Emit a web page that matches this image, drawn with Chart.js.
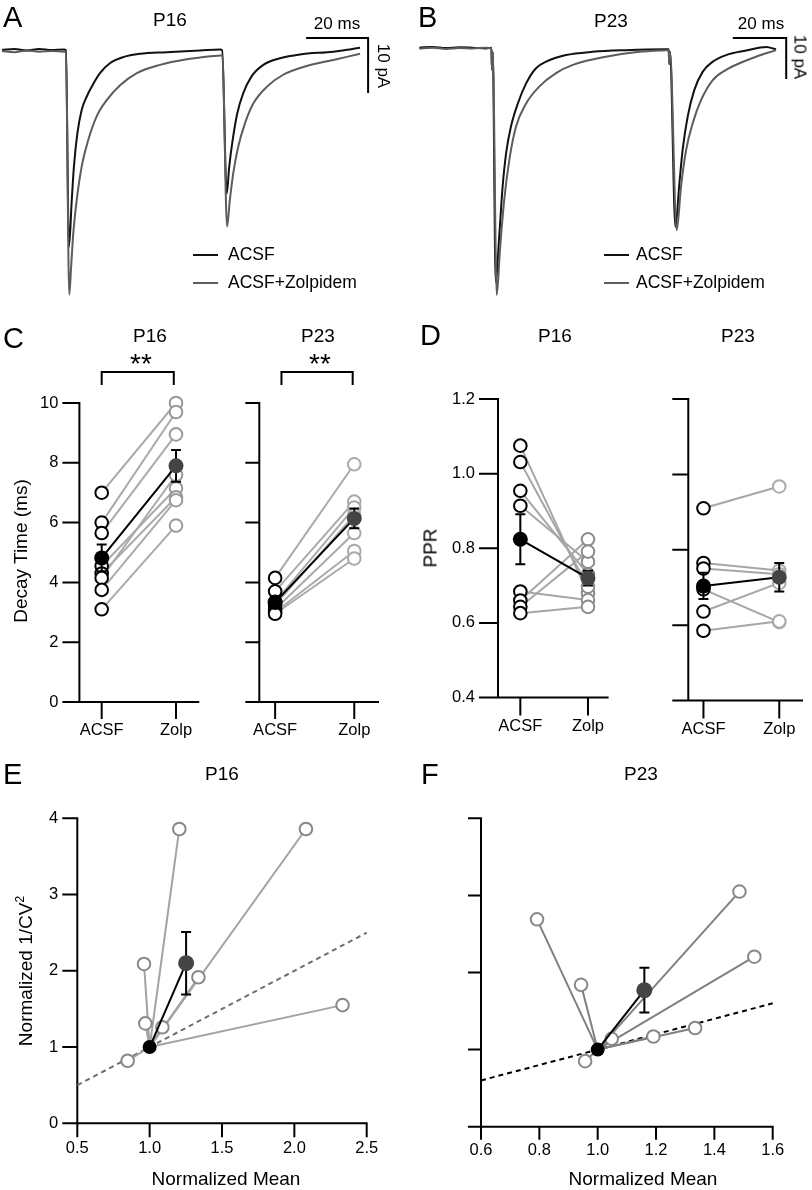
<!DOCTYPE html>
<html>
<head>
<meta charset="utf-8">
<script src="https://cdn.jsdelivr.net/npm/chart.js@4.4.1/dist/chart.umd.min.js"></script>
<style>
  body { margin: 0; background: #fff; }
  #fig { position: relative; width: 812px; height: 1190px; overflow: hidden;
         font-family: "Liberation Sans", Arial, Helvetica, sans-serif; color: #000; }
  #fig canvas { position: absolute; left: 0; top: 0; }
  .t { position: absolute; transform: translate(-50%, -50%); white-space: nowrap; font-size: 19px; line-height: 1; }
  .l { position: absolute; transform: translateY(-50%); white-space: nowrap; line-height: 1; font-size: 17.5px; }
  .letter { font-size: 29px; }
  .rot { transform: translate(-50%, -50%) rotate(-90deg); }
  .rotcw { transform: translate(-50%, -50%) rotate(90deg); font-size: 17px; }
  .stars { font-size: 28px; }
  .key { position: absolute; height: 0; width: 25px; border-top: 2px solid #111; transform: translateY(-1px); }
</style>
</head>
<body>
<div id="fig">
  <canvas id="cA" width="812" height="1190"></canvas>
  <canvas id="cB" width="812" height="1190"></canvas>
  <canvas id="cC16" width="812" height="1190"></canvas>
  <canvas id="cC23" width="812" height="1190"></canvas>
  <canvas id="cD16" width="812" height="1190"></canvas>
  <canvas id="cD23" width="812" height="1190"></canvas>
  <canvas id="cE" width="812" height="1190"></canvas>
  <canvas id="cF" width="812" height="1190"></canvas>

  <!-- A -->
  <div class="l letter" style="left:3px;top:17px">A</div>
  <div class="t" style="left:170px;top:19px">P16</div>
  <div class="t" style="left:337px;top:23px;font-size:17px">20 ms</div>
  <div class="t rotcw" style="left:383px;top:66px">10 pA</div>
  <div class="key" style="left:193px;top:255px"></div>
  <div class="key" style="left:193px;top:283px;border-color:#5c5c5c"></div>
  <div class="l" style="left:228px;top:255px">ACSF</div>
  <div class="l" style="left:228px;top:283px">ACSF+Zolpidem</div>

  <!-- B -->
  <div class="l letter" style="left:418px;top:17px">B</div>
  <div class="t" style="left:611px;top:20px">P23</div>
  <div class="t" style="left:761px;top:23px;font-size:17px">20 ms</div>
  <div class="t rotcw" style="left:800px;top:57px">10 pA</div>
  <div class="key" style="left:604px;top:255px"></div>
  <div class="key" style="left:604px;top:283px;border-color:#5c5c5c"></div>
  <div class="l" style="left:636px;top:255px">ACSF</div>
  <div class="l" style="left:636px;top:283px">ACSF+Zolpidem</div>

  <!-- C -->
  <div class="l letter" style="left:3px;top:338px">C</div>
  <div class="t" style="left:150px;top:335px">P16</div>
  <div class="t stars" style="left:141px;top:364px">**</div>
  <div class="t" style="left:318px;top:335px">P23</div>
  <div class="t stars" style="left:320px;top:364px">**</div>
  <div class="t rot" style="left:20px;top:551px">Decay Time (ms)</div>

  <!-- D -->
  <div class="l letter" style="left:420px;top:335px">D</div>
  <div class="t" style="left:555px;top:335px">P16</div>
  <div class="t" style="left:738px;top:335px">P23</div>
  <div class="t rot" style="left:430px;top:548px">PPR</div>

  <!-- E -->
  <div class="l letter" style="left:3px;top:774px">E</div>
  <div class="t" style="left:222px;top:773px">P16</div>
  <div class="t rot" style="left:25px;top:971px">Normalized 1/CV<span style="font-size:12px;position:relative;top:-8px">2</span></div>
  <div class="t" style="left:226px;top:1178px">Normalized Mean</div>

  <!-- F -->
  <div class="l letter" style="left:421px;top:774px">F</div>
  <div class="t" style="left:641px;top:773px">P23</div>
  <div class="t" style="left:643px;top:1178px">Normalized Mean</div>
</div>

<script>
// ---- A: P16 example traces (time in ms, current in pA)
const aAcsfT = [0, 4, 8, 12, 16, 20, 20.6, 21.6, 22.5, 23.2, 24.3, 25.7, 27.3, 29.5, 31.6, 34.8, 39.1, 44.5, 53.1, 63.9, 70.3, 71.0, 72.5, 73.3, 74.4, 75.9, 77.8, 80.5, 84.3, 89.7, 96.1, 106.9, 115.5];
const aAcsfI = [0, 0.2, -0.1, 0.2, 0, 0.1, 0, -35.8, -27.3, -21.2, -15.2, -10.9, -8.5, -6.1, -4.2, -2.4, -1.3, -0.7, -0.4, -0.1, 0.1, 0, -26.1, -21.2, -16.4, -11.5, -7.9, -4.8, -2.7, -1.5, -0.8, -0.3, 0.4];
const aZolT = [0, 4, 8, 12, 16, 20, 20.6, 21.7, 22.3, 23.0, 24.1, 25.7, 27.8, 30.5, 33.8, 38.1, 43.5, 51.0, 59.6, 68.2, 70.6, 71.1, 72.6, 73.5, 74.6, 76.2, 78.4, 81.1, 85.4, 90.7, 98.3, 106.9, 115.5];
const aZolI = [-0.2, -0.4, -0.1, -0.3, -0.2, -0.3, -0.3, -44.5, -39.4, -33.3, -27.3, -21.2, -16.4, -12.1, -9.1, -6.4, -4.2, -2.7, -1.7, -1.1, -1.0, -1.0, -32.1, -27.3, -22.4, -17.6, -13.3, -9.7, -6.7, -4.5, -2.9, -1.8, -0.7];
const aBarT = [98.1, 118.1, 118.1];   // 20 ms
const aBarI = [2.2, 2.2, -7.8];       // 10 pA

// ---- B: P23 example traces
const bAcsfT = [0, 5, 10, 15, 20, 25, 27.0, 27.2, 27.5, 28.6, 30.0, 31.2, 32.5, 34.3, 36.9, 40.0, 43.7, 47.5, 54.9, 64.9, 77.4, 92.4, 93.4, 93.6, 93.9, 95.9, 97.4, 98.6, 100.5, 103.0, 106.1, 109.9, 114.9, 122.4, 129.9, 133.6];
const bAcsfI = [0, 0.2, -0.1, 0.1, 0, -0.2, 0, -5.4, -1, -57.1, -45.3, -33.9, -25.8, -19.3, -13.6, -8.7, -5.0, -3.4, -1.8, -1.0, -0.6, -0.4, -0.4, -4.0, -1, -43.7, -33.1, -25.0, -16.8, -10.3, -5.9, -3.4, -1.8, -0.7, 0.2, -0.4];
const bZolT = [0, 5, 10, 15, 20, 25, 27.0, 27.2, 27.5, 29.0, 30.2, 31.8, 33.7, 36.2, 40.0, 44.9, 51.2, 57.5, 69.9, 82.4, 92.4, 93.4, 93.6, 93.9, 96.4, 98.0, 99.9, 102.4, 105.5, 109.9, 114.9, 119.9, 126.1, 133.6];
const bZolI = [-0.2, 0, -0.3, -0.1, -0.2, 0, -0.2, -5.4, -1, -60.3, -49.3, -37.1, -27.4, -19.3, -13.6, -9.5, -6.2, -4.2, -2.2, -1.0, -0.6, -0.6, -4.0, -1.2, -44.5, -33.9, -25.0, -18.4, -12.8, -7.9, -5.4, -3.8, -2.2, -0.6];
const bBarT = [117.4, 137.4, 137.4];
const bBarI = [2.37, 2.37, -7.63];

// ---- C: decay time (ms), paired cells
const cats = ['ACSF', 'Zolp'];
const c16Acsf = [7.0, 6.0, 5.65, 4.55, 4.3, 4.15, 3.75, 3.1];
const c16Zolp = [10.0, 9.7, 8.95, 7.15, 6.85, 7.6, 6.75, 5.9];
const c16Mean = [4.82, 7.9];
const c16Sem = [0.45, 0.53];
const c23Acsf = [4.15, 3.7, 3.35, 3.25, 3.1, 3.0, 2.95];
const c23Zolp = [7.95, 6.7, 6.5, 6.25, 5.65, 5.05, 4.8];
const c23Mean = [3.33, 6.14];
const c23Sem = [0.14, 0.33];
const cYTicks = [0, 2, 4, 6, 8, 10];
const cYLabels = ['0', '2', '4', '6', '8', '10'];
const c16BracketX = [0, 0, 0.97, 0.97];
const c23BracketX = [0.08, 0.08, 0.98, 0.98];
const cBracketY = [10.6, 11.04, 11.04, 10.6];

// ---- D: paired-pulse ratio
const d16Acsf = [1.075, 1.031, 0.954, 0.914, 0.684, 0.66, 0.643, 0.626];
const d16Zolp = [0.679, 0.697, 0.73, 0.764, 0.661, 0.824, 0.791, 0.643];
const d16Mean = [0.824, 0.72];
const d16Sem = [0.067, 0.02];
const d23Acsf = [0.91, 0.765, 0.75, 0.695, 0.636, 0.585];
const d23Zolp = [0.968, 0.745, 0.735, 0.608, 0.712, 0.61];
const d23Mean = [0.704, 0.727];
const d23Sem = [0.035, 0.038];
const dYTicks = [0.4, 0.6, 0.8, 1.0, 1.2];
const dYLabels = ['0.4', '0.6', '0.8', '1.0', '1.2'];

// ---- E / F: normalized mean vs normalized 1/CV^2
const ctrl = [1, 1];
const eMeanX = [1.205, 2.08, 0.961, 1.337, 2.333, 0.970, 1.088, 0.848];
const eCvY = [3.86, 3.86, 2.09, 1.915, 1.55, 1.31, 1.26, 0.82];
const eAvg = [1.252, 2.10];
const eAvgErr = 0.41;
const eIdentity = [0.5, 2.5];
const fMeanX = [0.792, 1.486, 1.537, 0.943, 1.048, 1.191, 1.334, 0.957];
const fCvY = [2.69, 3.05, 2.205, 1.84, 1.14, 1.17, 1.28, 0.85];
const fAvg = [1.16, 1.77];
const fAvgErr = 0.29;
const fIdentity = [0.6, 1.6];
const eYTicks = [0, 1, 2, 3, 4];
const eYLabels = ['0', '1', '2', '3', '4'];
const eXTicks = [0.5, 1.0, 1.5, 2.0, 2.5];
const eXLabels = ['0.5', '1.0', '1.5', '2.0', '2.5'];
const fXTicks = [0.6, 0.8, 1.0, 1.2, 1.4, 1.6];
const fXLabels = ['0.6', '0.8', '1.0', '1.2', '1.4', '1.6'];

const W = 812, H = 1190;
const pts = (xs, ys) => xs.map((x, i) => ({x, y: ys[i]}));

// Igor-style axes: y axis at x.min, x axis at y.min, outward ticks
const igorAxes = {
  id: 'igorAxes',
  beforeDatasetsDraw(chart, args, o) {
    if (!o || !o.yTicks) return;
    const {ctx} = chart;
    const sx = chart.scales.x, sy = chart.scales.y;
    const ax = sx.getPixelForValue(sx.min), ay = sy.getPixelForValue(sy.min);
    ctx.save();
    ctx.strokeStyle = '#000';
    ctx.fillStyle = '#000';
    ctx.lineWidth = 2;
    ctx.lineCap = 'square';
    ctx.beginPath();
    ctx.moveTo(ax, sy.getPixelForValue(sy.max));
    ctx.lineTo(ax, ay);
    ctx.lineTo(sx.getPixelForValue(sx.max), ay);
    o.yTicks.forEach(v => {
      const py = sy.getPixelForValue(v);
      ctx.moveTo(ax - o.yLen, py);
      ctx.lineTo(ax, py);
    });
    o.xTicks.forEach(v => {
      const px = sx.getPixelForValue(v);
      ctx.moveTo(px, ay);
      ctx.lineTo(px, ay + o.xLen);
    });
    ctx.stroke();
    ctx.font = '16.5px "Liberation Sans", Arial, sans-serif';
    ctx.textAlign = 'right';
    ctx.textBaseline = 'middle';
    (o.yLabels || []).forEach((s, i) => ctx.fillText(s, ax - o.yLen - 5, sy.getPixelForValue(o.yTicks[i])));
    ctx.textAlign = 'center';
    ctx.textBaseline = 'top';
    (o.xLabels || []).forEach((s, i) => ctx.fillText(s, sx.getPixelForValue(o.xTicks[i]), ay + o.xLen + 4));
    ctx.restore();
  }
};

// vertical SEM bars, drawn just under the dataset that carries them
const errorBars = {
  id: 'errorBars',
  beforeDatasetDraw(chart, args) {
    const ds = chart.data.datasets[args.index];
    if (!ds.errors) return;
    const {ctx} = chart;
    const sx = chart.scales.x, sy = chart.scales.y;
    ctx.save();
    ctx.strokeStyle = '#000';
    ctx.lineWidth = 2;
    ds.data.forEach((p, i) => {
      const e = ds.errors[i];
      if (!e) return;
      const px = sx.getPixelForValue(p.x);
      const top = sy.getPixelForValue(p.y + e), bot = sy.getPixelForValue(p.y - e);
      ctx.beginPath();
      ctx.moveTo(px, top); ctx.lineTo(px, bot);
      ctx.moveTo(px - 5, top); ctx.lineTo(px + 5, top);
      ctx.moveTo(px - 5, bot); ctx.lineTo(px + 5, bot);
      ctx.stroke();
    });
    ctx.restore();
  }
};

function makeChart(id, box, xr, yr, datasets, axes) {
  return new Chart(document.getElementById(id), {
    type: 'scatter',
    data: {datasets},
    options: {
      responsive: false,
      animation: false,
      events: [],
      layout: {autoPadding: false, padding: {left: box[0], top: box[1], right: W - box[2], bottom: H - box[3]}},
      scales: {
        x: {type: 'linear', display: false, min: xr[0], max: xr[1]},
        y: {type: 'linear', display: false, min: yr[0], max: yr[1]}
      },
      plugins: {legend: {display: false}, tooltip: {enabled: false}, igorAxes: axes || {}}
    },
    plugins: [igorAxes, errorBars]
  });
}

function line(data, color, width, order, extra) {
  return Object.assign({data, showLine: true, borderColor: color, borderWidth: width, pointRadius: 0, clip: false, order}, extra || {});
}
function dots(data, stroke, fill, r, order) {
  return {data, showLine: false, pointRadius: r, pointBorderColor: stroke, pointBackgroundColor: fill,
          pointBorderWidth: 2, borderColor: stroke, backgroundColor: fill, clip: false, order};
}

function trace(xs, ys, color, order) {
  return line(pts(xs, ys), color, 2, order, {cubicInterpolationMode: 'monotone'});
}

// A
makeChart('cA', [2, 22.5, 374, 297.5], [0, 120], [-45, 5], [
  line(pts(aBarT, aBarI), '#000', 2, 0),
  trace(aZolT, aZolI, '#5c5c5c', 1),
  trace(aAcsfT, aAcsfI, '#111', 2)
]);
// B
makeChart('cB', [419.3, 27.2, 806.5, 301.9], [0, 145], [-62, 5], [
  line(pts(bBarT, bBarI), '#000', 2, 0),
  trace(bZolT, bZolI, '#5c5c5c', 1),
  trace(bAcsfT, bAcsfI, '#111', 2)
]);

function pairedSets(acsf, zolp, mean, sem, lineCol, zCol) {
  const ds = acsf.map((a, i) => line([{x: 0, y: a}, {x: 1, y: zolp[i]}], lineCol, 2, 4));
  ds.push(dots(acsf.map(v => ({x: 0, y: v})), '#000', '#fff', 6.3, 3));
  ds.push(dots(zolp.map(v => ({x: 1, y: v})), zCol, '#fff', 6.3, 3));
  ds.push(line([{x: 0, y: mean[0]}, {x: 1, y: mean[1]}], '#000', 2, 1, {
    errors: sem, pointRadius: 7.5, pointBorderWidth: 0,
    pointBackgroundColor: ['#000', '#444'], pointBorderColor: ['#000', '#444']
  }));
  return ds;
}

// C
makeChart('cC16', [79.4, 403, 198.3, 702], [-0.3, 1.3], [0, 10],
  pairedSets(c16Acsf, c16Zolp, c16Mean, c16Sem, '#aaa', '#999').concat([line(pts(c16BracketX, cBracketY), '#000', 2, 0)]),
  {yTicks: cYTicks, yLabels: cYLabels, yLen: 16, xTicks: [0, 1], xLabels: cats, xLen: 16});
makeChart('cC23', [259.3, 403, 378, 702], [-0.2, 1.3], [0, 10],
  pairedSets(c23Acsf, c23Zolp, c23Mean, c23Sem, '#aaa', '#aaa').concat([line(pts(c23BracketX, cBracketY), '#000', 2, 0)]),
  {yTicks: cYTicks, yLen: 13, xTicks: [0, 1], xLabels: cats, xLen: 16});

// D
makeChart('cD16', [498, 399, 607.6, 697.5], [-0.33, 1.29], [0.4, 1.2],
  pairedSets(d16Acsf, d16Zolp, d16Mean, d16Sem, '#a6a6a6', '#8c8c8c'),
  {yTicks: dYTicks, yLabels: dYLabels, yLen: 18, xTicks: [0, 1], xLabels: cats, xLen: 17});
makeChart('cD23', [688.3, 399, 802, 700.5], [-0.2, 1.3], [0.4, 1.2],
  pairedSets(d23Acsf, d23Zolp, d23Mean, d23Sem, '#a6a6a6', '#aaa'),
  {yTicks: dYTicks, yLen: 15, xTicks: [0, 1], xLabels: cats, xLen: 17});

function cvSets(mx, cv, avg, err, ident, identCol, lineCol) {
  const ds = [line(pts(ident, ident), identCol, 2, 6, {borderDash: [5, 4]})];
  mx.forEach((x, i) => ds.push(line([{x: ctrl[0], y: ctrl[1]}, {x, y: cv[i]}], lineCol, 2, 5)));
  ds.push(dots(pts(mx, cv), '#888', '#fff', 6.3, 3));
  ds.push(line([{x: ctrl[0], y: ctrl[1]}, {x: avg[0], y: avg[1]}], '#000', 2, 1, {
    errors: [0, err], pointRadius: [7, 8], pointBorderWidth: 0,
    pointBackgroundColor: ['#000', '#444'], pointBorderColor: ['#000', '#444']
  }));
  return ds;
}

// E
makeChart('cE', [77.3, 818.3, 366.7, 1123.3], [0.5, 2.5], [0, 4],
  cvSets(eMeanX, eCvY, eAvg, eAvgErr, eIdentity, '#6e6e6e', '#a3a3a3'),
  {yTicks: eYTicks, yLabels: eYLabels, yLen: 14, xTicks: eXTicks, xLabels: eXLabels, xLen: 13});
// F
makeChart('cF', [481, 818.3, 772.7, 1126.7], [0.6, 1.6], [0, 4],
  cvSets(fMeanX, fCvY, fAvg, fAvgErr, fIdentity, '#000', '#808080'),
  {yTicks: eYTicks, yLen: 12, xTicks: fXTicks, xLabels: fXLabels, xLen: 12});
</script>
</body>
</html>
